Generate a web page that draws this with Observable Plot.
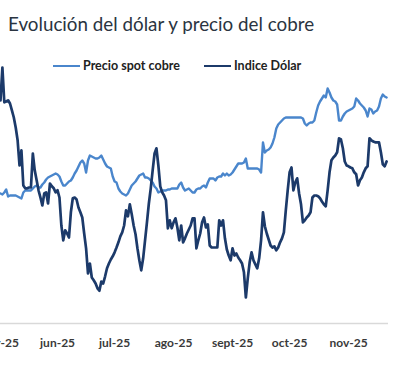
<!DOCTYPE html>
<html><head><meta charset="utf-8">
<script src="https://cdn.jsdelivr.net/npm/d3@7"></script>
<script src="https://cdn.jsdelivr.net/npm/@observablehq/plot@0.6"></script>
<style>
body{margin:0;background:#fff;}
#wrap{position:relative;width:400px;height:373px;overflow:hidden;font-family:Lato,sans-serif;background:#fff}
#title{height:46px;box-sizing:border-box;padding:13px 0 0 8px;font-size:18.8px;line-height:22px;color:#2a3441;white-space:nowrap}
.lg{position:absolute;top:58px;height:16px;line-height:16px;font-size:12.5px;font-weight:bold;color:#222;white-space:nowrap}
.sw{position:absolute;top:65px;width:27px;height:0;border-top:2.5px solid}
</style></head>
<body>
<div id="wrap">
  <div id="title">Evolución del dólar y precio del cobre</div>
  <div id="chart"></div>
  <span class="sw" id="sw1" style="left:53px"></span><span class="lg" id="lg1" style="left:83px"></span>
  <span class="sw" id="sw2" style="left:204px"></span><span class="lg" id="lg2" style="left:234px"></span>
</div>
<script>
// Series diarias desde 2025-05-02
const inicio = "2025-05-02";
const series = ["Precio spot cobre", "Indice Dólar"];
const colores = ["#4a86cc", "#1c3a6a"];
const meses = ["may-25","jun-25","jul-25","ago-25","sept-25","oct-25","nov-25"];
const mesesFecha = ["2025-05-01","2025-06-01","2025-07-01","2025-08-01","2025-09-01","2025-10-01","2025-11-01"];

// Indice Dólar (DXY)
const dolar = [
100.98,101.80,100.93,100.95,100.98,100.90,100.73,100.55,100.30,99.98,
99.35,99.73,98.85,98.78,98.78,98.80,98.80,99.65,99.23,98.98,
98.73,98.55,98.35,98.65,98.68,98.40,98.90,98.83,98.78,98.68,
98.73,98.55,97.85,97.48,97.73,97.65,97.55,98.18,98.53,98.55,
98.50,98.30,98.18,98.05,97.65,97.28,96.65,96.90,96.55,96.48,
96.40,96.28,96.22,96.45,96.40,96.58,96.78,96.90,97.00,97.08,
97.18,97.30,97.43,97.58,97.68,97.85,98.23,98.08,98.38,98.13,
97.85,97.63,97.28,96.98,96.73,97.03,97.48,97.93,98.40,98.78,
99.23,99.65,99.78,99.35,98.83,98.68,98.60,98.48,97.78,97.98,
97.78,97.93,98.03,97.80,97.48,97.85,97.43,97.53,97.65,97.75,
97.85,98.03,98.03,97.28,97.48,97.65,97.93,98.05,97.80,97.88,
97.35,97.30,97.30,97.30,97.30,97.98,97.85,97.98,97.53,97.25,
97.10,96.98,97.28,97.10,97.15,97.05,96.98,96.90,96.68,96.05,
96.53,96.93,97.18,96.98,96.88,96.78,97.03,97.48,98.18,97.83,
97.65,97.50,97.35,97.30,97.33,97.23,97.30,97.43,97.53,97.68,
98.23,98.73,99.18,99.30,98.73,98.93,99.03,98.65,98.38,97.93,
97.98,98.05,98.10,98.18,98.55,98.60,98.60,98.58,98.53,98.45,
98.38,98.33,98.73,99.18,99.48,99.55,99.60,99.68,100.03,100.00,
99.78,99.45,99.35,99.33,99.30,99.28,99.18,99.13,98.85,98.98,
99.05,99.18,99.28,99.33,100.03,99.98,99.95,99.93,99.93,99.93,
99.68,99.38,99.33,99.45
];

// Precio spot cobre (USD/t)
const cobre = [
9500,9485,9515,9560,9455,9470,9470,9470,9470,9455,
9440,9425,9515,9545,9545,9545,9545,9575,9605,9620,
9590,9590,9635,9665,9710,9740,9755,9770,9785,9800,
9785,9755,9680,9620,9620,9650,9680,9695,9740,9800,
9845,9905,9965,9995,9950,9815,9995,10070,10055,10040,
10025,10025,10040,10070,10010,9950,9905,9890,9875,9755,
9680,9665,9575,9530,9500,9485,9470,9500,9560,9620,
9650,9680,9725,9770,9785,9800,9740,9740,9725,9695,
9665,9605,9575,9515,9530,9545,9545,9545,9560,9560,
9575,9575,9575,9575,9635,9665,9590,9545,9560,9575,
9545,9515,9515,9560,9575,9575,9605,9620,9590,9665,
9725,9725,9725,9695,9740,9755,9755,9800,9770,9800,
9770,9785,9815,9860,9905,9950,9950,9950,9965,10025,
9875,9875,9875,9875,9875,9875,9860,9815,10265,10115,
10145,10160,10190,10250,10340,10475,10535,10565,10595,10625,
10640,10640,10640,10640,10640,10640,10640,10640,10640,10625,
10550,10520,10550,10565,10565,10595,10715,10820,10880,10925,
10970,10940,11075,11015,10940,10895,10880,10835,10595,10595,
10655,10700,10730,10745,10760,10775,10805,10925,10895,10850,
10820,10790,10745,10655,10775,10760,10700,10730,10745,10805,
10925,10985,10955,10940
];

// Eje secundario: cobre llevado a la escala del dólar
const cobreEnEjeDolar = d3.scaleLinear([9500, 11000], [98.65, 101.15]);

const t0 = new Date(inicio + "T00:00:00Z");
const fechas = dolar.map((_, i) => d3.utcDay.offset(t0, i));
const filas = [
  ...cobre.map((v, i) => ({fecha: fechas[i], serie: series[0], valor: cobreEnEjeDolar(v)})),
  ...dolar.map((v, i) => ({fecha: fechas[i], serie: series[1], valor: v}))
];
const ticks = mesesFecha.map(s => new Date(s + "T00:00:00Z"));
const etiqueta = new Map(ticks.map((t, i) => [+t, meses[i]]));

const chart = Plot.plot({
  width: 400,
  height: 327,
  marginLeft: 0,
  marginRight: 12,
  marginTop: 21,
  marginBottom: 50,
  style: {background: "transparent", overflow: "visible"},
  x: {type: "utc", domain: [t0, d3.utcDay.offset(t0, dolar.length)], label: null},
  y: {domain: [95.4, 101.8], axis: null},
  color: {domain: series, range: colores},
  marks: [
    Plot.ruleY([95.4], {stroke: "#d9d9d9", strokeWidth: 1.5}),
    Plot.axisX({ticks, tickSize: 0, tickPadding: 15, label: null, tickFormat: d => etiqueta.get(+d),
      fontSize: 12, fontWeight: "bold", fill: "#3a3a3a", fontFamily: "Lato, sans-serif"}),
    Plot.lineY(filas.filter(d => d.serie === series[0]), {x: "fecha", y: "valor", stroke: "serie", strokeWidth: 2.4, strokeLinejoin: "round"}),
    Plot.lineY(filas.filter(d => d.serie === series[1]), {x: "fecha", y: "valor", stroke: "serie", strokeWidth: 2.7, strokeLinejoin: "round"})
  ]
});
document.getElementById("chart").appendChild(chart);

document.getElementById("lg1").textContent = series[0];
document.getElementById("lg2").textContent = series[1];
document.getElementById("sw1").style.borderTopColor = colores[0];
document.getElementById("sw2").style.borderTopColor = colores[1];
</script>
</body></html>
